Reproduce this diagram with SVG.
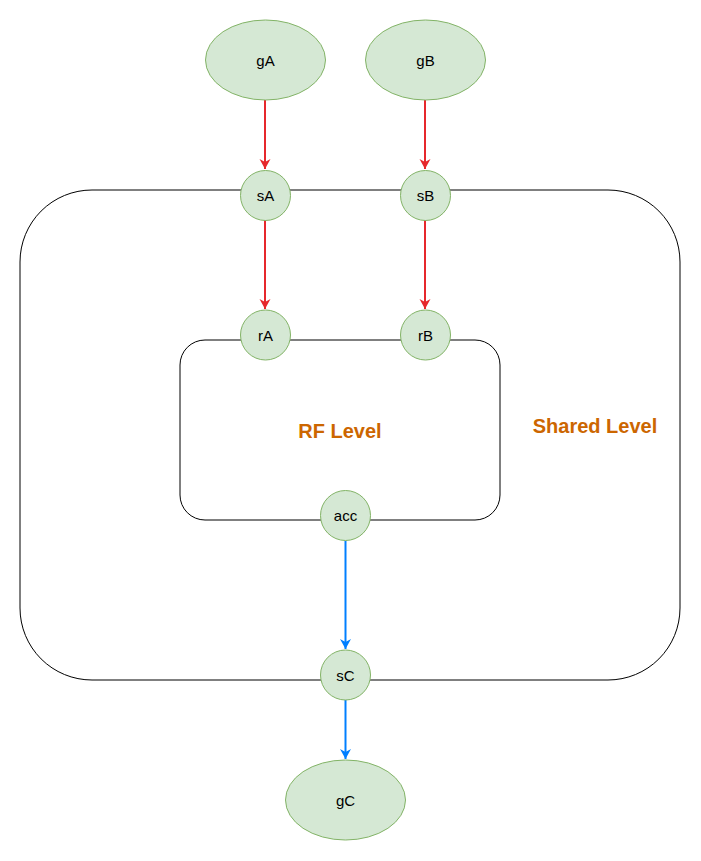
<svg xmlns="http://www.w3.org/2000/svg" width="701" height="861" viewBox="0 0 701 861">
<style>
.node{fill:#d5e8d4;stroke:#82b366;stroke-width:1}
.lbl{font-family:"Liberation Sans",Arial,sans-serif;font-size:15px;fill:#000;text-anchor:middle;dominant-baseline:central}
.lvl{font-family:"Liberation Sans",Arial,sans-serif;font-size:20px;font-weight:bold;fill:#cc6600;text-anchor:middle;dominant-baseline:central}
.box{fill:none;stroke:#000;stroke-width:1}
.red{stroke:#e6282c;stroke-width:2;fill:none}
.blue{stroke:#007fff;stroke-width:2;fill:none}
</style>
<defs>
<marker id="ar" markerWidth="12" markerHeight="12" refX="10" refY="6" orient="auto" markerUnits="userSpaceOnUse">
<path d="M0,0.5 L10,6 L0,11.5 L3,6 Z" fill="#e6282c"/>
</marker>
<marker id="ab" markerWidth="12" markerHeight="12" refX="10" refY="6" orient="auto" markerUnits="userSpaceOnUse">
<path d="M0,0.5 L10,6 L0,11.5 L3,6 Z" fill="#007fff"/>
</marker>
</defs>
<rect width="701" height="861" fill="#fff"/>
<g id="shared-level">
<rect class="box" x="20" y="190" width="660" height="490" rx="72" ry="72"/>
<text class="lvl" x="595" y="426">Shared Level</text>
</g>
<g id="rf-level">
<rect class="box" x="180" y="340" width="320" height="180" rx="25" ry="25"/>
<text class="lvl" x="340" y="431">RF Level</text>
</g>
<g id="connectors">
<line class="red" x1="265" y1="100" x2="265" y2="169" marker-end="url(#ar)"/>
<line class="red" x1="425" y1="100" x2="425" y2="169" marker-end="url(#ar)"/>
<line class="red" x1="265" y1="220" x2="265" y2="309" marker-end="url(#ar)"/>
<line class="red" x1="425" y1="220" x2="425" y2="309" marker-end="url(#ar)"/>
<line class="blue" x1="345.5" y1="541" x2="345.5" y2="649" marker-end="url(#ab)"/>
<line class="blue" x1="345.5" y1="700" x2="345.5" y2="759" marker-end="url(#ab)"/>
</g>
<g id="gA"><ellipse class="node" cx="265.5" cy="60" rx="60" ry="40"/><text class="lbl" x="265.5" y="60">gA</text></g>
<g id="gB"><ellipse class="node" cx="425.5" cy="60" rx="60" ry="40"/><text class="lbl" x="425.5" y="60">gB</text></g>
<g id="sA"><circle class="node" cx="265.5" cy="195.5" r="25"/><text class="lbl" x="265.5" y="195.5">sA</text></g>
<g id="sB"><circle class="node" cx="425.5" cy="195.5" r="25"/><text class="lbl" x="425.5" y="195.5">sB</text></g>
<g id="rA"><circle class="node" cx="265.5" cy="335" r="25"/><text class="lbl" x="265.5" y="335">rA</text></g>
<g id="rB"><circle class="node" cx="425.5" cy="335" r="25"/><text class="lbl" x="425.5" y="335">rB</text></g>
<g id="acc"><circle class="node" cx="345.5" cy="515.5" r="25"/><text class="lbl" x="345.5" y="515.5">acc</text></g>
<g id="sC"><circle class="node" cx="345.5" cy="675" r="25"/><text class="lbl" x="345.5" y="675">sC</text></g>
<g id="gC"><ellipse class="node" cx="345.5" cy="800" rx="60" ry="40"/><text class="lbl" x="345.5" y="800">gC</text></g>
</svg>
